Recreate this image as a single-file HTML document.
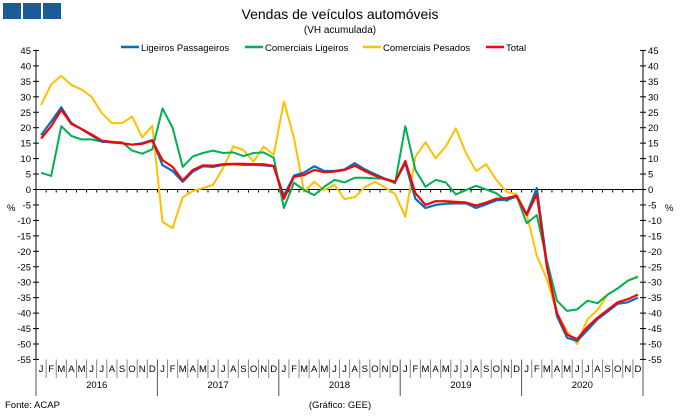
<!DOCTYPE html>
<html><head><meta charset="utf-8"><style>
body{margin:0;background:#fff;width:680px;height:416px;overflow:hidden}
svg{display:block;font-family:"Liberation Sans",Arial,sans-serif}
</style></head><body>
<svg id="c" width="680" height="416" xmlns="http://www.w3.org/2000/svg">
<rect x="3" y="3" width="18" height="16" fill="#1a5b9a"/>
<rect x="23" y="3" width="18" height="16" fill="#1a5b9a"/>
<rect x="43" y="3" width="18" height="16" fill="#1a5b9a"/>
<text x="340" y="19" font-size="14" text-anchor="middle" fill="#000">Vendas de veículos automóveis</text>
<text x="340" y="33" font-size="10" text-anchor="middle" fill="#000">(VH acumulada)</text>
<g font-size="9.5" fill="#000">
<line x1="121" y1="47" x2="139" y2="47" stroke="#0070C0" stroke-width="2.5"/><text x="141" y="51">Ligeiros Passageiros</text>
<line x1="245" y1="47" x2="263" y2="47" stroke="#00B050" stroke-width="2.5"/><text x="265" y="51">Comerciais Ligeiros</text>
<line x1="363" y1="47" x2="381" y2="47" stroke="#FFC000" stroke-width="2.5"/><text x="383" y="51">Comerciais Pesados</text>
<line x1="486" y1="47" x2="504" y2="47" stroke="#FF0000" stroke-width="2.5"/><text x="506" y="51">Total</text>
</g>
<g id="ax"></g>
<g id="lines" fill="none" stroke-linejoin="round"></g>
<text x="5" y="408" font-size="9.5">Fonte: ACAP</text>
<text x="340" y="408" font-size="9.5" text-anchor="middle">(Gráfico: GEE)</text>
</svg>
<script>
var NS="http://www.w3.org/2000/svg";
function el(p,t,a,txt){var e=document.createElementNS(NS,t);for(var k in a)e.setAttribute(k,a[k]);if(txt!==undefined)e.textContent=txt;p.appendChild(e);return e;}
var x0=36,x1=643,w=(x1-x0)/60,y0=189.5,s=3.09;
function Y(v){return y0-v*s;}function X(i){return x0+w*(i+0.5);}
var ax=document.getElementById('ax');
el(ax,'line',{x1:x0,y1:Y(45),x2:x0,y2:Y(-55),stroke:'#000','stroke-width':1});
el(ax,'line',{x1:x1,y1:Y(45),x2:x1,y2:Y(-55),stroke:'#000','stroke-width':1});
el(ax,'line',{x1:x0,y1:y0,x2:x1,y2:y0,stroke:'#000','stroke-width':1});
for(var v=45;v>=-55;v-=5){var y=Y(v);
el(ax,'line',{x1:x0-3,y1:y,x2:x0+3,y2:y,stroke:'#000'});
el(ax,'line',{x1:x1-3,y1:y,x2:x1+3,y2:y,stroke:'#000'});
el(ax,'text',{x:31,y:y+3.5,'font-size':9.5,'text-anchor':'end'},String(v));
el(ax,'text',{x:648,y:y+3.5,'font-size':9.5},String(v));}
el(ax,'text',{x:7,y:211,'font-size':9.5},'%');
el(ax,'text',{x:665,y:211,'font-size':9.5},'%');
var M="JFMAMJJASOND";
for(var i=0;i<=60;i++){var x=x0+w*i;
el(ax,'line',{x1:x,y1:y0,x2:x,y2:y0+3,stroke:'#000'});
var yr=(i%12==0);
el(ax,'line',{x1:x,y1:Y(-55),x2:x,y2:yr?396:378,stroke:yr?'#555':'#888','stroke-width':1});
if(i<60)el(ax,'text',{x:x+w/2,y:372,'font-size':9.5,'text-anchor':'middle'},M[i%12]);}
for(var k=0;k<5;k++)el(ax,'text',{x:x0+w*(12*k+6),y:388,'font-size':9.5,'text-anchor':'middle'},String(2016+k));
var blue=[17.6,22,26.6,21.5,19.5,17.5,15.5,15.2,15,14.5,15,16, 7.9,6,2.5,5.8,7.5,7.3,8,8.2,8,8,7.8,7.5, -2,4.5,5.5,7.5,6,6,6.5,8.5,6.5,5,3.5,2.5, 8.5,-3,-6,-5,-4.6,-4.5,-4.5,-6,-4.8,-3.5,-3.3,-2.3, -8,0.5,-24,-41,-48,-49,-45.5,-42,-39.5,-37,-36.5,-35];
var green=[5.4,4.4,20.5,17.3,16.2,16.2,15.5,15.3,15.3,12.6,11.6,13, 26.2,20,7.3,10.7,11.8,12.6,11.8,12,10.8,11.8,12,10.3, -6,2.2,-0.2,-1.8,0.9,3.1,2.3,3.8,3.8,3.6,3.5,2, 20.5,6.3,0.9,3.1,2.3,-1.6,-0.2,1.2,0,-1.2,-3.7,-2, -10.9,-8.3,-23,-36,-39.3,-38.8,-36,-36.8,-34,-32,-29.5,-28.3];
var yel=[27.3,34,36.8,33.8,32.4,30,24.7,21.5,21.5,23.6,16.9,20.6, -10.5,-12.5,-2.5,-0.5,0.5,1.5,7,13.9,12.8,9,13.9,11.2, 28.5,16.7,-0.7,2.5,-0.2,1.5,-3.1,-2.5,0.7,2.5,0.7,-1.5, -8.8,10.6,15.3,10.1,13.9,19.8,11.7,6,8.2,3.1,-0.7,-1.6, -8,-21.5,-29,-40,-46,-50,-42,-39,-34,-32,-29.5,-28];
var red=[16.5,20.5,25.8,21.2,19.6,17.8,15.8,15.4,15,14.5,14.8,15.8, 9.5,7.3,2.9,6.3,7.8,7.7,8.2,8.3,8.3,8.2,8.2,7.6, -3,4.1,4.7,6.3,5.6,5.8,6.3,7.7,6,4.5,3.3,2.5, 9.2,-1.2,-5,-3.8,-3.8,-4,-4.2,-5.2,-4.2,-3,-2.8,-2, -8.3,-1.5,-25,-40,-47,-48.4,-44.5,-41.5,-39,-36.5,-35.5,-34];
var L=document.getElementById('lines');
function draw(d,c,sw){var p=d.map(function(v,i){return X(i).toFixed(1)+','+Y(v).toFixed(1)}).join(' ');
el(L,'polyline',{points:p,stroke:c,'stroke-width':sw});}
draw(yel,'#FFC000',2);draw(green,'#00B050',2);draw(blue,'#0070C0',2.2);draw(red,'#FF0000',2.2);
</script>
</body></html>
